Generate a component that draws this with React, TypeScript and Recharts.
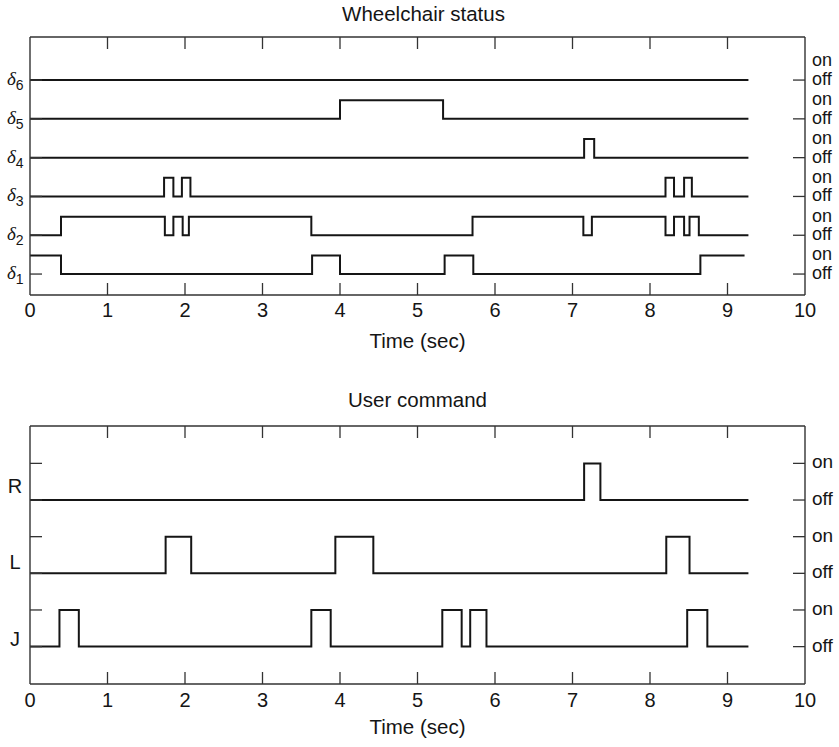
import React from 'react';
import { LineChart, Line, XAxis, YAxis } from 'recharts';

// time axis
const timeTicks = [0, 1, 2, 3, 4, 5, 6, 7, 8, 9, 10];

// Wheelchair status: switch times (sec) and state after each switch (1 = on)
const delta6Times = [0, 9.27];
const delta6States = [0, 0];
const delta5Times = [0, 4.0, 5.33, 9.27];
const delta5States = [0, 1, 0, 0];
const delta4Times = [0, 7.15, 7.28, 9.27];
const delta4States = [0, 1, 0, 0];
const delta3Times = [0, 1.73, 1.85, 1.96, 2.07, 8.2, 8.31, 8.44, 8.54, 9.27];
const delta3States = [0, 1, 0, 1, 0, 1, 0, 1, 0, 0];
const delta2Times = [0, 0.4, 1.74, 1.85, 1.97, 2.05, 3.63, 5.71, 7.14, 7.25, 8.2, 8.31, 8.44, 8.51, 8.63, 9.27];
const delta2States = [0, 1, 0, 1, 0, 1, 0, 1, 0, 1, 0, 1, 0, 1, 0, 0];
const delta1Times = [0, 0.4, 3.64, 4.0, 5.35, 5.72, 8.65, 9.22];
const delta1States = [1, 0, 1, 0, 1, 0, 1, 1];

// User command
const rTimes = [0, 7.15, 7.36, 9.27];
const rStates = [0, 1, 0, 0];
const lTimes = [0, 1.75, 2.08, 3.94, 4.43, 8.21, 8.51, 9.27];
const lStates = [0, 1, 0, 1, 0, 1, 0, 0];
const jTimes = [0, 0.38, 0.63, 3.63, 3.88, 5.32, 5.57, 5.68, 5.89, 8.48, 8.74, 9.27];
const jStates = [0, 1, 0, 1, 0, 1, 0, 1, 0, 1, 0, 0];

const statusNames = ['1', '2', '3', '4', '5', '6'];
const commandNames = ['J', 'L', 'R'];

const FONT = '"Liberation Sans", Arial, Helvetica, sans-serif';
const INK = '#151515';
const FRAME = '#333';
const TICK = 12;

const STATUS_ON = 0.48;
const CMD_ON = 0.5;

const toSteps = (times: number[], states: number[], level: number, h: number) =>
  times.map((t, i) => ({ t, v: level + states[i] * h }));

const statusSeries = [
  toSteps(delta1Times, delta1States, 1, STATUS_ON),
  toSteps(delta2Times, delta2States, 2, STATUS_ON),
  toSteps(delta3Times, delta3States, 3, STATUS_ON),
  toSteps(delta4Times, delta4States, 4, STATUS_ON),
  toSteps(delta5Times, delta5States, 5, STATUS_ON),
  toSteps(delta6Times, delta6States, 6, STATUS_ON),
];

const commandSeries = [
  toSteps(jTimes, jStates, 1, CMD_ON),
  toSteps(lTimes, lStates, 2, CMD_ON),
  toSteps(rTimes, rStates, 3, CMD_ON),
];

const statusLevels = statusNames.flatMap((_, i) => [i + 1, i + 1 + STATUS_ON]);
const commandLevels = commandNames.flatMap((_, i) => [i + 1, i + 1 + CMD_ON]);

// axes are 1px wide/high; tick x,y arrive at the outer edge of that strip
const BottomTick = (props: any) => {
  const { x, y, payload, base } = props;
  const v = payload.value;
  const ay = y - 1;
  return (
    <g>
      {v > 0 && v < 10 && <path d={`M${x},${ay}V${ay - TICK}`} stroke={FRAME} strokeWidth={1.3} fill="none" />}
      <text x={x} y={ay + base} textAnchor="middle" fontSize={20} fontFamily={FONT} fill={INK}>
        {v}
      </text>
    </g>
  );
};

const TopTick = (props: any) => {
  const { x, y, payload } = props;
  const v = payload.value;
  const ay = y + 1;
  if (v <= 0 || v >= 10) return <g />;
  return <path d={`M${x},${ay}V${ay + TICK}`} stroke={FRAME} strokeWidth={1.3} fill="none" />;
};

const DeltaTick = (props: any) => {
  const { x, y, payload } = props;
  const v = payload.value;
  const ax = x + 1;
  return (
    <g>
      <path d={`M${ax},${y}H${ax + TICK}`} stroke={FRAME} strokeWidth={1.3} fill="none" />
      <text x={7} y={y + 5} fontSize={19} fontFamily='"Liberation Serif", "Times New Roman", serif' fontStyle="italic" fill={INK}>
        δ
        <tspan fontFamily={FONT} fontStyle="normal" fontSize={14} dy={5}>
          {statusNames[v - 1]}
        </tspan>
      </text>
    </g>
  );
};

const cmdLift: Record<string, number> = { J: 8, L: 11, R: 14 };

const CommandTick = (props: any) => {
  const { x, y, payload } = props;
  const v = payload.value;
  const ax = x + 1;
  const isOff = Number.isInteger(v);
  const name = commandNames[v - 1];
  return (
    <g>
      <path d={`M${ax},${y}H${ax + TICK}`} stroke={FRAME} strokeWidth={1.3} fill="none" />
      {isOff && (
        <text x={15} y={y - cmdLift[name] + 7} textAnchor="middle" fontSize={20} fontFamily={FONT} fill={INK}>
          {name}
        </text>
      )}
    </g>
  );
};

const OnOffTick = (props: any) => {
  const { x, y, payload, markOn, size } = props;
  const v = payload.value;
  const ax = x - 1;
  const isOff = Number.isInteger(v);
  return (
    <g>
      {(isOff || markOn) && <path d={`M${ax},${y}H${ax - TICK}`} stroke={FRAME} strokeWidth={1.3} fill="none" />}
      <text x={ax + 7} y={y + 5} fontSize={size} fontFamily={FONT} fill={INK}>
        {isOff ? 'off' : 'on'}
      </text>
    </g>
  );
};

const Caption = ({ top, text, shift = 0 }: { top: number; text: string; shift?: number }) => (
  <div
    style={{
      position: 'absolute',
      left: 30 + shift,
      width: 775,
      top,
      textAlign: 'center',
      fontSize: 20.5,
      lineHeight: '21px',
      fontFamily: FONT,
      color: INK,
    }}
  >
    {text}
  </div>
);

const axisLine = { stroke: FRAME, strokeWidth: 1.4 };

function StepPanel({
  height,
  marginTop,
  marginBottom,
  domain,
  leftTicks,
  rightTicks,
  leftTick,
  markOn,
  onOffSize,
  series,
  labelBase,
}: any) {
  return (
    <LineChart width={839} height={height} margin={{ top: marginTop - 1, right: 33, bottom: marginBottom, left: 29 }}>
      <XAxis
        xAxisId="b"
        type="number"
        dataKey="t"
        domain={[0, 10]}
        ticks={timeTicks}
        interval={0}
        allowDataOverflow
        tickSize={1}
        tickMargin={0}
        tickLine={false}
        height={50}
        axisLine={axisLine}
        tick={(p: any) => <BottomTick {...p} base={labelBase} />}
      />
      <XAxis
        xAxisId="t"
        orientation="top"
        type="number"
        dataKey="t"
        domain={[0, 10]}
        ticks={timeTicks}
        interval={0}
        allowDataOverflow
        tickSize={1}
        tickMargin={0}
        tickLine={false}
        height={1}
        axisLine={axisLine}
        tick={TopTick}
      />
      <YAxis
        yAxisId="l"
        type="number"
        domain={domain}
        ticks={leftTicks}
        interval={0}
        allowDataOverflow
        tickSize={1}
        tickMargin={0}
        tickLine={false}
        width={1}
        axisLine={axisLine}
        tick={leftTick}
      />
      <YAxis
        yAxisId="r"
        orientation="right"
        type="number"
        domain={domain}
        ticks={rightTicks}
        interval={0}
        allowDataOverflow
        tickSize={1}
        tickMargin={0}
        tickLine={false}
        width={1}
        axisLine={axisLine}
        tick={(p: any) => <OnOffTick {...p} markOn={markOn} size={onOffSize} />}
      />
      {series.map((pts: any[], i: number) => (
        <Line
          key={i}
          xAxisId="b"
          yAxisId="l"
          data={pts}
          dataKey="v"
          type="stepAfter"
          stroke={INK}
          strokeWidth={2}
          dot={false}
          activeDot={false}
          isAnimationActive={false}
        />
      ))}
    </LineChart>
  );
}

export default function App() {
  return (
    <div style={{ position: 'absolute', left: 0, top: 0, width: 839, height: 747, background: '#fff', fontFamily: FONT }}>
      <div style={{ position: 'absolute', left: 0, top: 0 }}>
        <StepPanel
          height={360}
          marginTop={37}
          marginBottom={15}
          domain={[0.46, 7.11]}
          leftTicks={[1, 2, 3, 4, 5, 6]}
          rightTicks={statusLevels}
          leftTick={DeltaTick}
          markOn={false}
          onOffSize={18}
          series={statusSeries}
          labelBase={22}
        />
      </div>
      <div style={{ position: 'absolute', left: 0, top: 390 }}>
        <StepPanel
          height={357}
          marginTop={36}
          marginBottom={13}
          domain={[0.49, 4.01]}
          leftTicks={commandLevels}
          rightTicks={commandLevels}
          leftTick={CommandTick}
          markOn={true}
          onOffSize={19}
          series={commandSeries}
          labelBase={23}
        />
      </div>
      <Caption top={3} text="Wheelchair status" shift={6} />
      <Caption top={330} text="Time (sec)" />
      <Caption top={389} text="User command" />
      <Caption top={716} text="Time (sec)" />
    </div>
  );
}
